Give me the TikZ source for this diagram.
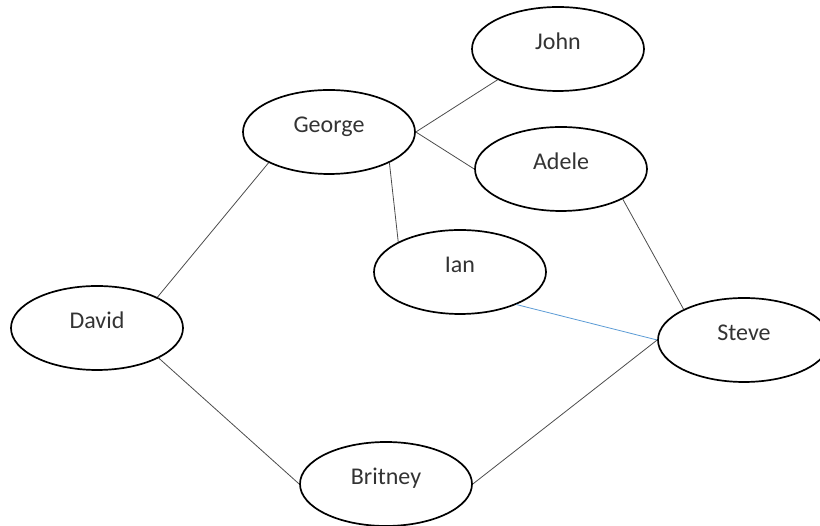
\documentclass[tikz,border=0pt]{standalone}
\usepackage{fontspec}
\setmainfont{Carlito}
\usetikzlibrary{shapes.geometric}

\begin{document}
\begin{tikzpicture}[x=1pt, y=1pt,
	person/.style={ellipse, draw, line width=1.7pt, minimum width=172pt, minimum height=84pt, inner sep=0pt, text height=12pt, text depth=10pt, text=black!80, font=\fontsize{24}{28}\selectfont},
	link/.style={draw=black!70, line width=0.8pt}]
		\useasboundingbox (0,0) rectangle (820,526);
		\node[person] (john) at (558,477) {John};
		\node[person] (george) at (329,394) {George};
		\node[person] (adele) at (561,357) {Adele};
		\node[person] (ian) at (460,254) {Ian};
		\node[person] (david) at (97,198) {David};
		\node[person] (steve) at (744,186) {Steve};
		\node[person] (britney) at (386,42) {Britney};
		
		\path[link]
		(george.east) edge (john.207)
		(george.east) edge (adele.west)
		(george.333) edge (ian.154)
		(george.207) edge (david.27)
		(david.334) edge (britney.west)
		(britney.east) edge (steve.west)
		(adele.334) edge (steve.153);
		\path[draw={rgb,255:red,91;green,155;blue,213}, line width=0.8pt]
		(ian.330) edge (steve.west);
	\end{tikzpicture}
\end{document}
